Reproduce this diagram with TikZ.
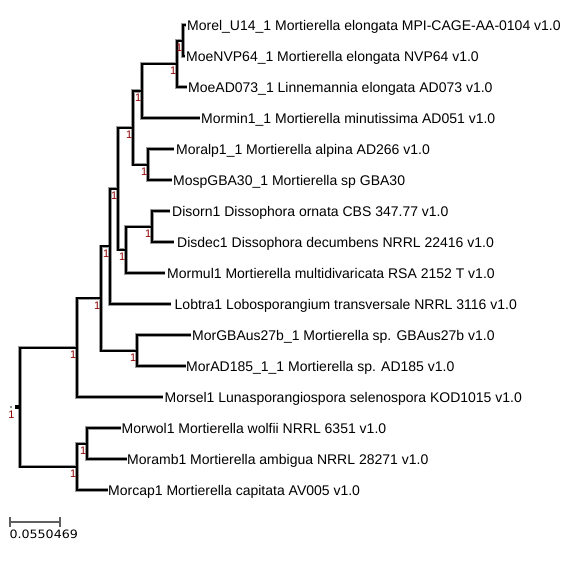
\documentclass[tikz,border=0pt]{standalone}
\usepackage{fontspec}
\setmainfont{Liberation Sans}
\newfontfamily\barfont[FakeStretch=1.1]{DejaVu Sans}
\definecolor{supred}{RGB}{145,0,0}
\definecolor{bargray}{RGB}{95,95,95}
\begin{document}
\begin{tikzpicture}[x=1pt,y=1pt,
  br/.style={line width=2pt, draw=black, preaction={draw=black!40, line width=3.3pt}},
  leaf/.style={anchor=base west, inner sep=0pt, font=\fontsize{14}{16}\selectfont},
  bs/.style={anchor=north east, inner sep=0pt, text=supred, font=\fontsize{11}{12}\selectfont},
  bar/.style={draw=bargray, line width=1.7pt},
]
\useasboundingbox (0,0) rectangle (573,-566);
% leaf tips
\coordinate (t1) at (185.5,-25);
\coordinate (t2) at (185,-56);
\coordinate (t3) at (186.5,-87);
\coordinate (t4) at (200,-118);
\coordinate (t5) at (174,-149);
\coordinate (t6) at (171.7,-180);
\coordinate (t7) at (170,-211);
\coordinate (t8) at (174,-242);
\coordinate (t9) at (165,-273);
\coordinate (t10) at (171,-304);
\coordinate (t11) at (191,-335);
\coordinate (t12) at (185.5,-366);
\coordinate (t13) at (163.3,-397);
\coordinate (t14) at (121,-428);
\coordinate (t15) at (126.5,-459);
\coordinate (t16) at (107.5,-490);
% internal nodes
\coordinate (A) at (183,-40.5);
\coordinate (B) at (177,-63.75);
\coordinate (C) at (142,-90.9);
\coordinate (D) at (148,-164.5);
\coordinate (E) at (133,-127.7);
\coordinate (F) at (152,-226.5);
\coordinate (G) at (126,-249.75);
\coordinate (H) at (118,-188.7);
\coordinate (I) at (110,-246.4);
\coordinate (J) at (137,-350.5);
\coordinate (K) at (101,-298.4);
\coordinate (L) at (77,-347.7);
\coordinate (M) at (87,-443.5);
\coordinate (N) at (77,-466.75);
\coordinate (R) at (20,-407.2);
% branches
\draw[br] (t1) -| (A) |- (t2)
  (A) -| (B) |- (t3)
  (B) -| (C) |- (t4)
  (t5) -| (D) |- (t6)
  (C) -| (E) |- (D)
  (t7) -| (F) |- (t8)
  (F) -| (G) |- (t9)
  (E) -| (H) |- (G)
  (H) -| (I) |- (t10)
  (t11) -| (J) |- (t12)
  (I) -| (K) |- (J)
  (K) -| (L) |- (t13)
  (t14) -| (M) |- (t15)
  (M) -| (N) |- (t16)
  (L) -| (R) |- (N);
% leaf labels
\node[leaf] (n1) at (187,-30) {Morel\_U14\_1 Mortierella elongata MPI-CAGE-AA-0104 v1.0};
\node[leaf] (n2) at (186,-61) {MoeNVP64\_1 Mortierella elongata NVP64 v1.0};
\node[leaf] (n3) at (188,-92) {MoeAD073\_1 Linnemannia elongata AD073 v1.0};
\node[leaf] (n4) at (201,-123) {Mormin1\_1 Mortierella minutissima AD051 v1.0};
\node[leaf] (n5) at (176,-154) {Moralp1\_1 Mortierella alpina AD266 v1.0};
\node[leaf] (n6) at (173,-185) {MospGBA30\_1 Mortierella sp GBA30};
\node[leaf] (n7) at (172,-216) {Disorn1 Dissophora ornata CBS 347.77 v1.0};
\node[leaf] (n8) at (177,-247) {Disdec1 Dissophora decumbens NRRL 22416 v1.0};
\node[leaf] (n9) at (167,-278) {Mormul1 Mortierella multidivaricata RSA 2152 T v1.0};
\node[leaf] (n10) at (174.5,-309) {Lobtra1 Lobosporangium transversale NRRL 3116 v1.0};
\node[leaf] (n11) at (192,-340) {MorGBAus27b\_1 Mortierella sp. GBAus27b v1.0};
\node[leaf] (n12) at (186,-371) {MorAD185\_1\_1 Mortierella sp. AD185 v1.0};
\node[leaf] (n13) at (164.5,-402) {Morsel1 Lunasporangiospora selenospora KOD1015 v1.0};
\node[leaf] (n14) at (121.5,-433) {Morwol1 Mortierella wolfii NRRL 6351 v1.0};
\node[leaf] (n15) at (127,-464) {Moramb1 Mortierella ambigua NRRL 28271 v1.0};
\node[leaf] (n16) at (108,-495) {Morcap1 Mortierella capitata AV005 v1.0};
% support values
\node[bs] (sA) at (182.5,-43.5) {1};
\node[bs] (sB) at (176.5,-66.75) {1};
\node[bs] (sC) at (141.5,-93.9) {1};
\node[bs] (sD) at (147.5,-167.5) {1};
\node[bs] (sE) at (132.5,-130.7) {1};
\node[bs] (sF) at (151.5,-229.5) {1};
\node[bs] (sG) at (125.5,-252.75) {1};
\node[bs] (sH) at (117.5,-191.7) {1};
\node[bs] (sI) at (109.5,-249.4) {1};
\node[bs] (sJ) at (136.5,-353.5) {1};
\node[bs] (sK) at (100.5,-301.4) {1};
\node[bs] (sL) at (76.5,-350.7) {1};
\node[bs] (sM) at (86.5,-446.5) {1};
\node[bs] (sN) at (76.5,-469.75) {1};
\node[bs] (sR) at (14.8,-411) {1};
% root marks
\node[fill=black, inner sep=0pt, minimum size=4pt] (rootdot) at (17,-407.3) {};
\node[fill=black!45, inner sep=0pt, minimum size=1.8pt] (rootstub) at (10.7,-407.3) {};
% scale bar
\coordinate (sbL) at (10,-521.7);
\coordinate (sbR) at (60,-521.7);
\draw[bar] (sbL) -- (sbR);
\draw[bar] ([yshift=5pt]sbL) -- ([yshift=-5pt]sbL);
\draw[bar] ([yshift=5pt]sbR) -- ([yshift=-5pt]sbR);
\node[anchor=base west, inner sep=0pt, font={\barfont\fontsize{11.5}{13}\selectfont}] (sbt) at (9.3,-538.3) {0.0550469};
\end{tikzpicture}
\end{document}
